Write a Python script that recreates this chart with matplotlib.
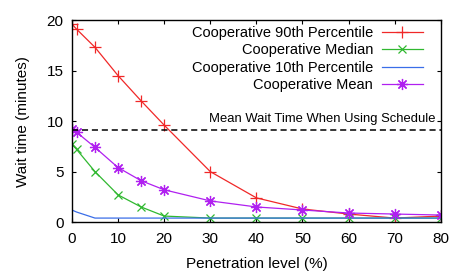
import matplotlib
matplotlib.use("Agg")
import matplotlib.pyplot as plt

penetration = [0, 1, 5, 10, 15, 20, 30, 40, 50, 60, 70, 80]
p90 = [19.6, 19.1, 17.3, 14.5, 12.0, 9.6, 5.0, 2.4, 1.3, 0.8, 0.4, 0.6]
median = [7.7, 7.2, 5.0, 2.7, 1.5, 0.6, 0.4, 0.4, 0.4, 0.4, 0.4, 0.4]
p10 = [1.2, 1.0, 0.4, 0.4, 0.4, 0.4, 0.4, 0.4, 0.4, 0.4, 0.4, 0.4]
mean = [9.2, 8.9, 7.4, 5.4, 4.1, 3.2, 2.1, 1.5, 1.2, 0.9, 0.8, 0.7]
schedule_mean = 9.1

plt.rcParams["font.family"] = ["Liberation Sans", "DejaVu Sans"]

fig = plt.figure(figsize=(4.67, 2.78), dpi=100)
ax = fig.add_axes([0.154, 0.201, 0.79, 0.727])

star = (8, 2, 0)
ax.plot(penetration, p90, color="#f02828", lw=0.9, marker="+", ms=8, mew=0.9,
        label="Cooperative 90th Percentile")
ax.plot(penetration, median, color="#30b830", lw=0.9, marker="x", ms=6, mew=0.9,
        label="Cooperative Median")
ax.plot(penetration, p10, color="#3a6ee8", lw=0.9,
        label="Cooperative 10th Percentile")
ax.plot(penetration, mean, color="#b020f0", lw=0.9, marker=star, ms=8, mew=0.9,
        label="Cooperative Mean")

ax.axhline(schedule_mean, color="black", lw=1.1, ls=(0, (4, 2.5)))
ax.text(0.985, (schedule_mean + 0.5) / 20, "Mean Wait Time When Using Schedule",
        transform=ax.transAxes, ha="right", va="bottom", fontsize=9.4)

ax.set_xlim(0, 80)
ax.set_ylim(0, 20)
ax.set_xticks(range(0, 81, 10))
ax.set_yticks(range(0, 21, 5))
ax.tick_params(direction="in", top=True, right=True, length=3, labelsize=11)
ax.tick_params(axis="x", pad=7)
ax.tick_params(axis="y", pad=6)
for s in ax.spines.values():
    s.set_linewidth(1.0)
ax.set_xlabel("Penetration level (%)", fontsize=11, labelpad=8)
ax.set_ylabel("Wait time (minutes)", fontsize=11, labelpad=12)

leg = ax.legend(loc="upper right", markerfirst=False, frameon=False, fontsize=10.5,
                handlelength=2.8, handletextpad=0.6, labelspacing=0.23,
                borderpad=0, borderaxespad=0, bbox_to_anchor=(0.951, 0.97))
leg._legend_box._children[-1]._children[0].align = "right"

fig.savefig("out.png", dpi=100)
